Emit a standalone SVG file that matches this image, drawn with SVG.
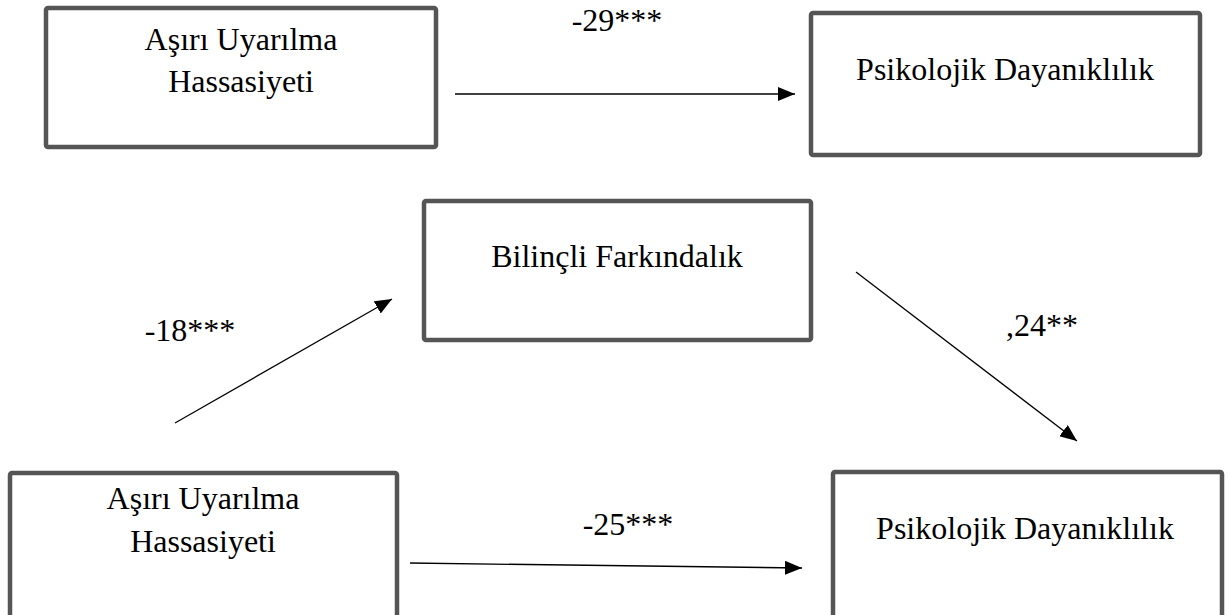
<svg xmlns="http://www.w3.org/2000/svg" width="1228" height="615" viewBox="0 0 1228 615">
<style>
.box{fill:#fff;stroke:#555;stroke-width:4.5}
.t{font-family:"Liberation Serif","Times New Roman",serif;font-size:32px;fill:#000;text-anchor:middle}
.c{stroke:#000;stroke-width:1.3;fill:none;marker-end:url(#ah)}
</style>
<defs>
<marker id="ah" markerUnits="userSpaceOnUse" markerWidth="18" markerHeight="14" refX="17" refY="7" orient="auto">
<path d="M0,0 L17,7 L0,14 Z" fill="#000"/>
</marker>
</defs>
<rect width="1228" height="615" fill="#fff"/>
<g id="n1"><rect class="box" x="46" y="8" width="390" height="139" rx="2"/>
<text class="t" x="241" y="50">Aşırı Uyarılma</text><text class="t" x="241" y="92">Hassasiyeti</text></g>
<g id="n2"><rect class="box" x="811" y="13" width="389" height="142" rx="2"/>
<text class="t" x="1005" y="80">Psikolojik Dayanıklılık</text></g>
<g id="n3"><rect class="box" x="424" y="201" width="387" height="139" rx="2"/>
<text class="t" x="617" y="267">Bilinçli Farkındalık</text></g>
<g id="n4"><rect class="box" x="10" y="473" width="387" height="160" rx="2"/>
<text class="t" x="203" y="509">Aşırı Uyarılma</text><text class="t" x="203" y="552">Hassasiyeti</text></g>
<g id="n5"><rect class="box" x="833" y="472" width="389" height="160" rx="2"/>
<text class="t" x="1025" y="539">Psikolojik Dayanıklılık</text></g>
<g id="connectors">
<line class="c" x1="455" y1="94" x2="795" y2="94"/>
<line class="c" x1="175" y1="423" x2="392" y2="299"/>
<line class="c" x1="856" y1="272" x2="1077" y2="441"/>
<line class="c" x1="410" y1="563" x2="802" y2="568"/>
<text class="t" x="617" y="31">-29***</text>
<text class="t" x="190" y="341">-18***</text>
<text class="t" x="1042" y="336">,24**</text>
<text class="t" x="628" y="535">-25***</text>
</g>
</svg>
